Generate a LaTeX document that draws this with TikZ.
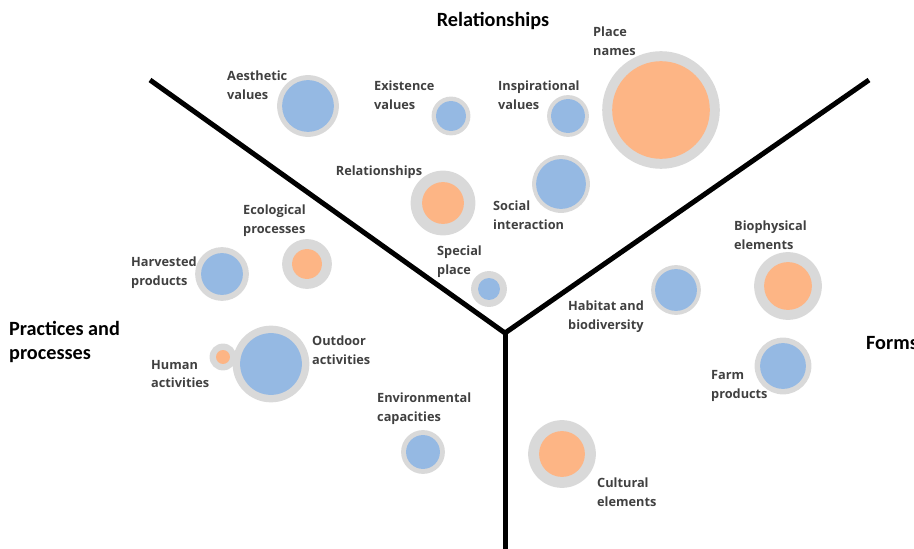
\documentclass[tikz,border=0pt]{standalone}
\usepackage{fontspec}
\setmainfont{Carlito}
\newfontfamily\labelfont{Open Sans}
\definecolor{bubblegray}{HTML}{D9D9D9}
\definecolor{bubbleblue}{HTML}{95B9E3}
\definecolor{bubbleorange}{HTML}{FDB585}
\definecolor{labelgray}{HTML}{404040}
\begin{document}
\begin{tikzpicture}[x=1bp,y=-1bp,
  ring/.style={circle,fill=bubblegray,draw=none,inner sep=0pt,minimum size=#1},
  coreblue/.style={circle,fill=bubbleblue,draw=none,inner sep=0pt,minimum size=#1},
  coreorange/.style={circle,fill=bubbleorange,draw=none,inner sep=0pt,minimum size=#1},
  lbl/.style={anchor=west,align=left,inner sep=0pt,text=labelgray,font=\labelfont\bfseries\fontsize{12.8}{19}\selectfont},
  head/.style={inner sep=0pt,text=black,font=\bfseries\fontsize{20.3}{25}\selectfont},
  axis/.style={line width=5bp,black,line cap=butt,line join=miter}]
\useasboundingbox (0,0) rectangle (914,549);
% axes
\coordinate (J) at (505,333);
\coordinate (L) at (150,80);
\coordinate (R) at (869,80);
\coordinate (B) at (505,549);
\draw[axis] (L) -- (J) -- (R);
\draw[axis] (J) -- (B);
% headings
\node[head,anchor=center] (hrel) at (493,21) {Relationships};
\node[head,anchor=west,align=left] (hprac) at (9,342) {Practices and\\processes};
\node[head,anchor=west] (hforms) at (866,343) {Forms};
% bubbles
\node[ring=62] (aes) at (308,106) {}; \node[coreblue=52] (aesc) at (aes) {};
\node[ring=39] (exi) at (451,116) {}; \node[coreblue=30] (exic) at (exi) {};
\node[ring=42] (ins) at (568,116) {}; \node[coreblue=34] (insc) at (ins) {};
\node[ring=118] (pla) at (661,110) {}; \node[coreorange=98] (plac) at (pla) {};
\node[ring=65] (rel) at (443,203) {}; \node[coreorange=42] (relc) at (rel) {};
\node[ring=58] (soc) at (561,184) {}; \node[coreblue=50] (socc) at (soc) {};
\node[ring=50] (eco) at (307,264) {}; \node[coreorange=30] (ecoc) at (eco) {};
\node[ring=54] (har) at (222,274) {}; \node[coreblue=42] (harc) at (har) {};
\node[ring=36] (spe) at (489,289) {}; \node[coreblue=22] (spec) at (spe) {};
\node[ring=50] (hab) at (676,290) {}; \node[coreblue=42] (habc) at (hab) {};
\node[ring=68] (bio) at (788,286) {}; \node[coreorange=48] (bioc) at (bio) {};
\node[ring=57] (far) at (783,366) {}; \node[coreblue=46] (farc) at (far) {};
\node[ring=68] (cul) at (562,454) {}; \node[coreorange=46] (culc) at (cul) {};
\node[ring=44] (env) at (423,452) {}; \node[coreblue=34] (envc) at (env) {};
\node[ring=77] (out) at (271,364) {}; \node[coreblue=62] (outc) at (out) {};
\node[ring=27] (hum) at (223,357) {}; \node[coreorange=14] (humc) at (hum) {};
% labels
\node[lbl] (laes) at (227,85) {Aesthetic\\values};
\node[lbl] (lexi) at (374,95) {Existence\\values};
\node[lbl] (lins) at (498,95) {Inspirational\\values};
\node[lbl] (lpla) at (593,41) {Place\\names};
\node[lbl,anchor=center] (lrel) at (379,172) {Relationships};
\node[lbl] (lsoc) at (493,215) {Social\\interaction};
\node[lbl] (leco) at (243,221) {Ecological\\processes};
\node[lbl] (lhar) at (131,273) {Harvested\\products};
\node[lbl] (lspe) at (437,262) {Special\\place};
\node[lbl] (lhab) at (568,317) {Habitat and\\biodiversity};
\node[lbl] (lbio) at (734,235) {Biophysical\\elements};
\node[lbl] (lfar) at (711,386) {Farm\\products};
\node[lbl] (lcul) at (597,492) {Cultural\\elements};
\node[lbl] (lenv) at (377,409) {Environmental\\capacities};
\node[lbl] (lout) at (312,350) {Outdoor\\activities};
\node[lbl] (lhum) at (151,374) {Human\\activities};
\end{tikzpicture}
\end{document}
